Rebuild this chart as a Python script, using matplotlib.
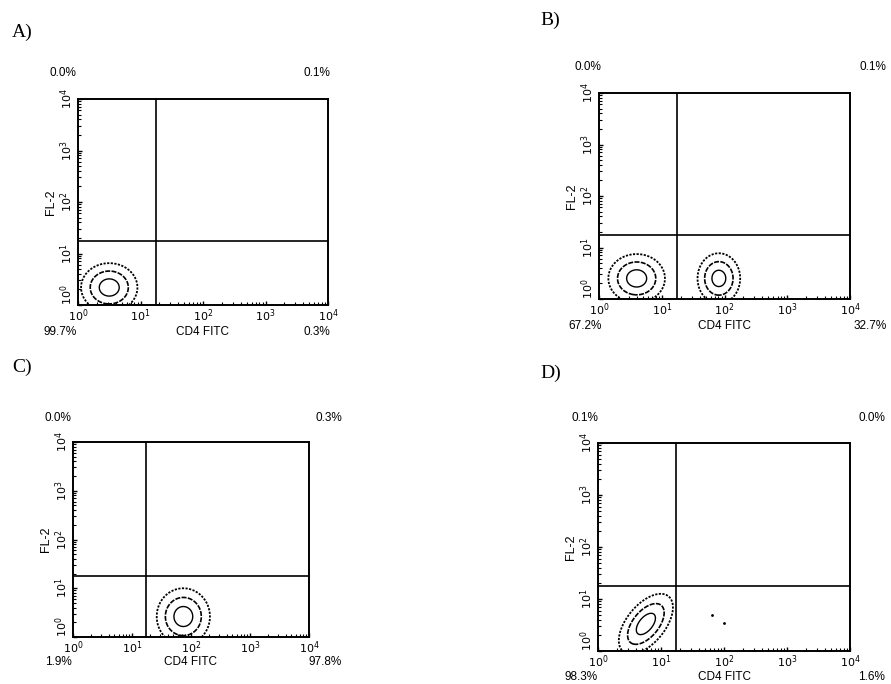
import numpy as np
import matplotlib
matplotlib.use("Agg")
import matplotlib.pyplot as plt
from matplotlib.ticker import LogLocator, NullFormatter, FixedLocator

# ---------------- data ----------------
panel_letters = ["A)", "B)", "C)", "D)"]
x_label = "CD4 FITC"
y_label = "FL-2"
tick_values = [1, 10, 100, 1000, 10000]
x_tick_labels = [r"$10^0$", r"$10^1$", r"$10^2$", r"$10^3$", r"$10^4$"]
y_tick_labels = [r"$10^0$", r"$10^1$", r"$10^2$", r"$10^3$", r"$10^4$"]
gate_x = 17.5
gate_y = 17.5

# quadrant percentages: upper-left, upper-right, lower-left, lower-right
quad_A = ["0.0%", "0.1%", "99.7%", "0.3%"]
quad_B = ["0.0%", "0.1%", "67.2%", "32.7%"]
quad_C = ["0.0%", "0.3%", "1.9%", "97.8%"]
quad_D = ["0.1%", "0.0%", "98.3%", "1.6%"]

# populations: (centre x, centre y, spread x, spread y, correlation, weight) in decades
pops_A = [(0.50, 0.34, 0.21, 0.22, 0.0, 1.0)]
pops_B = [(0.60, 0.40, 0.21, 0.22, 0.0, 1.0), (1.91, 0.40, 0.16, 0.23, 0.0, 0.95)]
pops_C = [(1.87, 0.42, 0.21, 0.27, 0.0, 1.0)]
pops_D = [(0.76, 0.52, 0.20, 0.27, 0.55, 1.0)]
stray_D_x = [65, 100]
stray_D_y = [4.9, 3.5]

contour_levels = [0.1, 0.35, 0.75]

# ---------------- layout ----------------
fig = plt.figure(figsize=(8.91, 6.84), dpi=100)
W, H = 891, 684

def rect(l, r, t, b):
    return [l / W, 1 - b / H, (r - l) / W, (b - t) / H]

panels = [
    dict(rect=rect(78, 328, 99, 305), quad=quad_A, pops=pops_A,
         letter=(12, 32), top_y=1.125, left_x=-0.005, right_x=1.01, bot_y=-0.13),
    dict(rect=rect(599, 850, 93, 299), quad=quad_B, pops=pops_B,
         letter=(540, 20), top_y=1.125, left_x=0.01, right_x=1.145, bot_y=-0.13),
    dict(rect=rect(73, 309, 442, 637), quad=quad_C, pops=pops_C,
         letter=(12, 367), top_y=1.125, left_x=-0.005, right_x=1.14, bot_y=-0.128),
    dict(rect=rect(598, 850, 443, 651), quad=quad_D, pops=pops_D,
         letter=(540, 373), top_y=1.12, left_x=0.0, right_x=1.14, bot_y=-0.125),
]

gx = np.linspace(0, 4, 500)
gy = np.linspace(0, 4, 500)
GX, GY = np.meshgrid(gx, gy)

sans = "Liberation Sans"

for i, p in enumerate(panels):
    ax = fig.add_axes(p["rect"])
    ax.set_xscale("log")
    ax.set_yscale("log")
    ax.set_xlim(1, 1e4)
    ax.set_ylim(1, 1e4)

    # density of populations
    Z = np.zeros_like(GX)
    for (cx, cy, sx, sy, rho, w) in p["pops"]:
        dx = (GX - cx) / sx
        dy = (GY - cy) / sy
        q = (dx * dx - 2 * rho * dx * dy + dy * dy) / (1 - rho * rho)
        Z += w * np.exp(-0.5 * q)
    Z /= Z.max()
    ax.contour(10 ** GX, 10 ** GY, Z, levels=contour_levels, colors="black",
               linewidths=[1.3, 1.2, 1.0],
               linestyles=[(0, (1.2, 0.8)), (0, (3, 0.8)), "solid"])
    if i == 3:
        ax.scatter(stray_D_x, stray_D_y, s=1, color="black")

    # quadrant gates
    ax.axvline(gate_x, color="black", lw=1.2)
    ax.axhline(gate_y, color="black", lw=1.2)

    for s in ax.spines.values():
        s.set_linewidth(1.4)

    ax.xaxis.set_major_locator(FixedLocator(tick_values))
    ax.yaxis.set_major_locator(FixedLocator(tick_values))
    ax.set_xticklabels(x_tick_labels, fontsize=8, family=sans)
    ax.set_yticklabels(y_tick_labels, fontsize=8, family=sans, rotation=90)
    for k, lab in enumerate(ax.get_yticklabels()):
        lab.set_va("bottom" if k == 0 else "center")
    ax.xaxis.set_minor_locator(LogLocator(base=10, subs=np.arange(2, 10), numticks=20))
    ax.yaxis.set_minor_locator(LogLocator(base=10, subs=np.arange(2, 10), numticks=20))
    ax.xaxis.set_minor_formatter(NullFormatter())
    ax.yaxis.set_minor_formatter(NullFormatter())
    ax.tick_params(which="major", direction="in", length=3, width=1, pad=2)
    ax.tick_params(which="minor", direction="in", length=2, width=0.8)

    ax.set_ylabel(y_label, fontsize=9, family=sans, labelpad=1)

    q = p["quad"]
    ax.text(p["left_x"], p["top_y"], q[0], transform=ax.transAxes, ha="right", va="center",
            fontsize=8.5, family=sans)
    ax.text(p["right_x"], p["top_y"], q[1], transform=ax.transAxes, ha="right", va="center",
            fontsize=8.5, family=sans)
    ax.text(p["left_x"], p["bot_y"], q[2], transform=ax.transAxes, ha="right", va="center",
            fontsize=8.5, family=sans)
    ax.text(p["right_x"], p["bot_y"], q[3], transform=ax.transAxes, ha="right", va="center",
            fontsize=8.5, family=sans)
    ax.text(0.5, p["bot_y"], x_label, transform=ax.transAxes, ha="center", va="center",
            fontsize=8.5, family=sans)

    lx, ly = p["letter"]
    fig.text(lx / W, 1 - ly / H, panel_letters[i], ha="left", va="center",
             fontsize=14, family="Liberation Serif")

fig.savefig("out.png", dpi=100)
